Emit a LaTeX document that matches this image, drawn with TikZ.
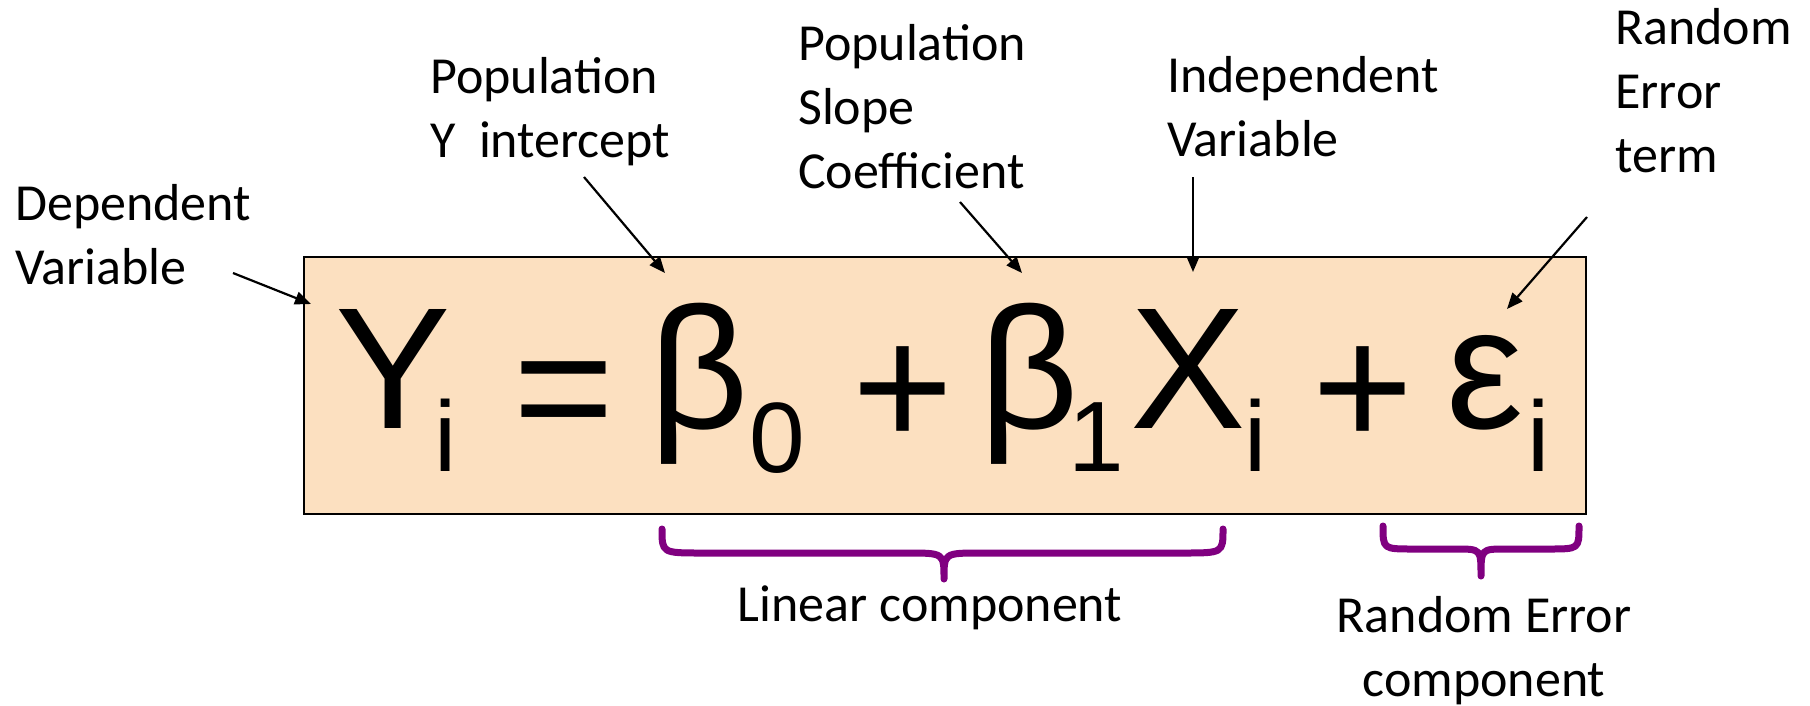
\documentclass[tikz,border=0pt]{standalone}
\usepackage{fontspec}
\setmainfont{Carlito}
\newfontfamily\eqfont{Liberation Sans}
\usetikzlibrary{arrows.meta}
\definecolor{peach}{RGB}{252,224,192}
\definecolor{bracepurple}{RGB}{128,0,128}

\tikzset{
    lbl/.style={font=\fontsize{52}{64}\selectfont, align=left, inner sep=0pt, anchor=base west},
    bigsym/.style={font=\eqfont\fontsize{173}{173}\selectfont, inner sep=0pt, anchor=base},
    subsym/.style={font=\eqfont\fontsize{100}{100}\selectfont, inner sep=0pt, anchor=base},
    pointer/.style={-{Triangle[length=16pt,width=13pt]}, line width=2.2pt},
    curly/.style={bracepurple, line width=7pt, line cap=round, line join=round},
}

\begin{document}
\begin{tikzpicture}[x=1pt, y=-1pt]
    \useasboundingbox (0,0) rectangle (1810,705);

    % Equation box
    \node[draw, fill=peach, line width=2pt, minimum width=1282pt, minimum height=257pt,
          anchor=north west, inner sep=0pt] (eqbox) at (303,256) {};

    % Equation terms
    \node[bigsym] (Y)    at (393,428)  {Y};
    \node[subsym] (Yi)   at (446,471)  {i};
    \node[bigsym] (eq)   at (564,446)  {=};
    \node[bigsym] (b0)   at (699,428)  {β};
    \node[subsym] (b0s)  at (777,472)  {0};
    \node[bigsym] (plA)  at (903,446)  {+};
    \node[bigsym] (b1)   at (1029,428) {β};
    \node[subsym] (b1s)  at (1096,471) {1};
    \node[bigsym] (X)    at (1188,428) {X};
    \node[subsym] (Xi)   at (1256,471) {i};
    \node[bigsym] (plB)  at (1363,446) {+};
    \node[bigsym] (eps)  at (1485,428) {ε};
    \node[subsym] (epsi) at (1539,471) {i};

    % Labels (placed at the baseline of their last line)
    \node[lbl] (depvar)    at (15,284)   {Dependent\\Variable};
    \node[lbl] (intercept) at (430,157)  {Population\\Y\ \ intercept};
    \node[lbl] (slope)     at (798,188)  {Population\\Slope\\Coefficient};
    \node[lbl] (indep)     at (1167,156) {Independent\\Variable};
    \node[lbl] (errterm)   at (1615,172) {Random\\Error\\term};
    \node[lbl, anchor=base] (linear)  at (930,621)  {Linear component};
    \node[lbl, anchor=base, align=center] (errcomp) at (1484,696) {Random Error\\component};

    % Arrow ends
    \coordinate (deptail) at (233,273);
    \coordinate (deptip)  at (311,304);
    \coordinate (inttail) at (584,177);
    \coordinate (inttip)  at (665,273);
    \coordinate (slptail) at (960,202);
    \coordinate (slptip)  at (1022,273);
    \coordinate (indtail) at (1193,177);
    \coordinate (indtip)  at (1193,272);
    \coordinate (errtail) at (1587,217);
    \coordinate (errtip)  at (1507,309);

    \draw[pointer] (deptail) -- (deptip);
    \draw[pointer] (inttail) -- (inttip);
    \draw[pointer] (slptail) -- (slptip);
    \draw[pointer] (indtail) -- (indtip);
    \draw[pointer] (errtail) -- (errtip);

    % Braces
    \draw[curly] (662,529) .. controls (662,553) .. (702,553) -- (907,553)
        .. controls (944,553) .. (944,579) .. controls (944,553) .. (981,553)
        -- (1183,553) .. controls (1223,553) .. (1223,529);
    \draw[curly] (1383,526) .. controls (1383,549) .. (1413,549) -- (1456,549)
        .. controls (1481,549) .. (1481,576) .. controls (1481,549) .. (1506,549)
        -- (1549,549) .. controls (1579,549) .. (1579,526);

\end{tikzpicture}
\end{document}
